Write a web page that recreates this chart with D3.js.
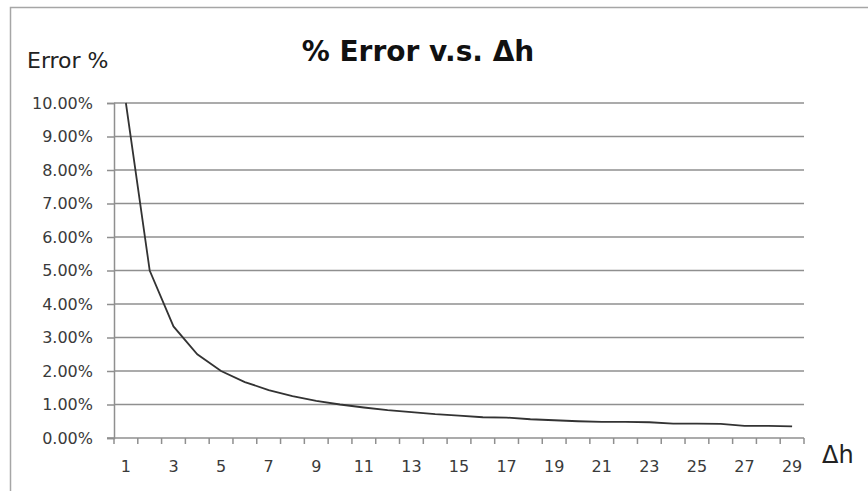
<!DOCTYPE html>
<html>
<head>
<meta charset="utf-8">
<script src="https://cdn.jsdelivr.net/npm/d3@7"></script>
<style>
  body { margin: 0; background: #fff; }
  svg { display: block; }
</style>
</head>
<body>
<div class="graph"></div>
<script>
// step size (delta h) and % error
var steps = [1, 2, 3, 4, 5, 6, 7, 8, 9, 10, 11, 12, 13, 14, 15,
             16, 17, 18, 19, 20, 21, 22, 23, 24, 25, 26, 27, 28, 29];
var errors = [10.00, 5.00, 3.33, 2.50, 2.00, 1.67, 1.43, 1.25, 1.11, 1.00,
              0.91, 0.83, 0.77, 0.71, 0.67, 0.62, 0.61, 0.56, 0.53, 0.50,
              0.48, 0.48, 0.47, 0.43, 0.43, 0.42, 0.36, 0.36, 0.35];
var yTicks = [0, 1, 2, 3, 4, 5, 6, 7, 8, 9, 10];
var title = "% Error v.s. \u0394h";
var yTitle = "Error %";
var xTitle = "\u0394h";

var data = steps.map(function (s, i) { return { step: s, value: errors[i] }; });

var W = 868, H = 491;
var margin = { top: 103, right: 64, bottom: 53, left: 114 },
    width = W - margin.left - margin.right,
    height = H - margin.top - margin.bottom;

var svg = d3.select(".graph").append("svg")
    .attr("width", W)
    .attr("height", H);

// outer chart border (only top and left visible in the crop)
svg.append("path")
    .attr("d", "M10.5," + H + " V7.5 H" + W)
    .attr("fill", "none")
    .attr("stroke", "#a6a6a6")
    .attr("stroke-width", 1.5);

var g = svg.append("g")
    .attr("transform", "translate(" + margin.left + "," + margin.top + ")");

var x = d3.scaleBand().domain(steps).range([0, width]);
var y = d3.scaleLinear().domain([0, 10]).range([height, 0]);

// horizontal gridlines
g.append("g")
    .selectAll("line")
    .data(yTicks.filter(function (d) { return d > 0; }))
    .join("line")
    .attr("x1", 0)
    .attr("x2", width)
    .attr("y1", function (d) { return y(d); })
    .attr("y2", function (d) { return y(d); })
    .attr("stroke", "#8f8f8f")
    .attr("stroke-width", 1.5);

// y axis
var yAxis = g.append("g")
    .call(d3.axisLeft(y).tickValues(yTicks).tickSize(7).tickPadding(14)
        .tickFormat(function (d) { return d.toFixed(2) + "%"; }));
yAxis.select(".domain").attr("stroke", "#8f8f8f").attr("stroke-width", 1.5);
yAxis.selectAll(".tick line").attr("stroke", "#8f8f8f").attr("stroke-width", 1.5);
yAxis.selectAll(".tick text")
    .attr("fill", "#3a3a3a")
    .style("font-family", "'DejaVu Sans', sans-serif")
    .style("font-size", "16px");

// x axis: band ticks at boundaries, labels on odd steps
var xAxis = g.append("g")
    .attr("transform", "translate(0," + height + ")")
    .call(d3.axisBottom(x).tickSize(0).tickPadding(23)
        .tickFormat(function (d) { return d % 2 === 1 ? d : ""; }));
xAxis.select(".domain").remove();
xAxis.selectAll(".tick text")
    .attr("fill", "#3a3a3a")
    .style("font-family", "'DejaVu Sans', sans-serif")
    .style("font-size", "16px");

g.append("line")
    .attr("x1", -7).attr("x2", width)
    .attr("y1", height).attr("y2", height)
    .attr("stroke", "#8f8f8f").attr("stroke-width", 1.5);

g.append("g")
    .selectAll("line")
    .data(steps.concat([null]))
    .join("line")
    .attr("x1", function (d) { return d === null ? width : x(d); })
    .attr("x2", function (d) { return d === null ? width : x(d); })
    .attr("y1", height)
    .attr("y2", height + 6)
    .attr("stroke", "#8f8f8f")
    .attr("stroke-width", 1.5);

// the error curve
var valueLine = d3.line()
    .x(function (d) { return x(d.step) + x.bandwidth() / 2; })
    .y(function (d) { return y(d.value); });
g.append("path")
    .datum(data)
    .attr("fill", "none")
    .attr("stroke", "#333")
    .attr("stroke-width", 1.8)
    .attr("d", valueLine);

// titles
svg.append("text")
    .attr("x", 418)
    .attr("y", 61)
    .attr("text-anchor", "middle")
    .attr("fill", "#111")
    .style("font-family", "'DejaVu Sans', sans-serif")
    .style("font-weight", "bold")
    .style("font-size", "28px")
    .text(title);

svg.append("text")
    .attr("x", 27)
    .attr("y", 68)
    .attr("fill", "#222")
    .style("font-family", "'DejaVu Sans', sans-serif")
    .style("font-size", "22px")
    .text(yTitle);

svg.append("text")
    .attr("x", 822)
    .attr("y", 463)
    .attr("fill", "#222")
    .style("font-family", "'DejaVu Sans', sans-serif")
    .style("font-size", "24px")
    .text(xTitle);
</script>
</body>
</html>
